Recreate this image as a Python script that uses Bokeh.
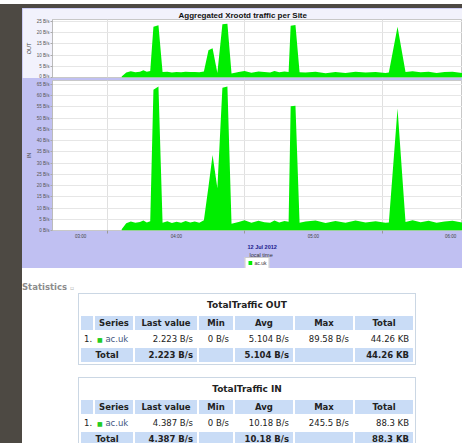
from bokeh.plotting import figure
from bokeh.models import (Range1d, FixedTicker, Div, Legend, LegendItem, Title,
                          ColumnDataSource)
from bokeh.layouts import row, column
from bokeh.embed import file_html
from bokeh.resources import INLINE

# ---------------- data ----------------
chart_title = "Aggregated Xrootd traffic per Site"
series_name = "ac.uk"
date_label = "12 Jul 2012"
time_axis_label = "local time"

# minutes after 03:00 local time
times = [36.0, 38.0, 40.0, 42.0, 44.0, 45.5, 47.0, 48.5, 49.9, 52.1,
         53.9, 56.0, 58.0, 60.0, 62.0, 64.0, 66.0, 68.0, 70.0, 72.0,
         74.0, 75.8, 77.9, 80.1, 82.3, 84.1, 87.2, 89.8, 92.8, 95.9,
         98.5, 101.0, 102.9, 105.0, 107.3, 109.1, 110.0, 112.1, 113.9, 116.5,
         120.9, 125.3, 129.6, 134.0, 138.4, 142.8, 147.2, 151.5, 153.0, 156.8,
         160.3, 163.4, 166.9, 170.4, 173.9, 177.4, 180.9, 185.3]
out_bps = [0.4, 2.2, 2.8, 2.3, 2.6, 3.2, 2.6, 2.9, 22.6, 23.3,
           2.4, 2.6, 2.2, 2.5, 2.3, 2.6, 2.4, 2.5, 2.3, 2.7,
           12.2, 13.0, 2.0, 23.7, 24.0, 1.8, 2.4, 2.9, 2.1, 2.7,
           2.4, 2.2, 2.9, 2.3, 2.7, 2.5, 23.1, 23.4, 2.3, 2.2,
           2.6, 1.9, 2.5, 2.0, 2.6, 2.2, 2.5, 2.0, 2.2, 22.6,
           2.4, 2.8, 2.3, 2.6, 2.0, 2.4, 2.6, 2.0]
in_bps = [0.6, 3.2, 4.0, 3.4, 3.8, 4.4, 3.6, 4.1, 62.6, 64.0,
          3.4, 4.1, 3.3, 3.9, 3.5, 4.2, 3.6, 4.0, 3.5, 4.6,
          19.5, 33.6, 18.8, 63.5, 64.0, 3.0, 3.8, 4.6, 3.4, 4.3,
          3.7, 3.5, 4.4, 3.6, 4.2, 3.9, 55.3, 55.5, 3.5, 4.0,
          4.5, 3.3, 4.2, 3.4, 4.4, 3.6, 4.1, 3.4, 3.6, 54.3,
          3.8, 4.6, 3.7, 4.3, 3.4, 4.0, 4.3, 3.5]

out_ticks = [0, 5, 10, 15, 20, 25]
in_ticks = [0, 5, 10, 15, 20, 25, 30, 35, 40, 45, 50, 55, 60, 65]
hour_labels = ["03:00", "04:00", "05:00", "06:00"]
hour_label_at = [18, 60, 120, 180]
half_hours = [30, 90, 150]

stat_columns = ["Series", "Last value", "Min", "Avg", "Max", "Total"]
out_row = ["2.223 B/s", "0 B/s", "5.104 B/s", "89.58 B/s", "44.26 KB"]
out_total = ["2.223 B/s", "", "5.104 B/s", "", "44.26 KB"]
in_row = ["4.387 B/s", "0 B/s", "10.18 B/s", "245.5 B/s", "88.3 KB"]
in_total = ["4.387 B/s", "", "10.18 B/s", "", "88.3 KB"]

# ---------------- styling ----------------
GREEN = "#00ee00"
LAV = "#c0c0f2"
DARK = "#4d4943"
CHART_FONT = "Liberation Sans"
W = 440
x_range = Range1d(5.7, 185.25)
src = ColumnDataSource(dict(t=times, out=out_bps, inn=in_bps))


def style_y(p, ticks, label):
    ax = p.yaxis[0]
    ax.ticker = FixedTicker(ticks=ticks)
    ax.major_label_overrides = {t: f"{t} B/s" for t in ticks}
    ax.major_label_text_font = CHART_FONT
    ax.major_label_text_font_size = "4.5px"
    ax.major_label_text_color = "#555555"
    ax.major_label_standoff = 1
    ax.major_tick_out = 2
    ax.major_tick_in = 0
    ax.major_tick_line_color = "#aaaaaa"
    ax.minor_tick_line_color = None
    ax.axis_line_color = "#bbbbbb"
    ax.axis_label = label
    ax.axis_label_text_font = CHART_FONT
    ax.axis_label_text_font_size = "5.5px"
    ax.axis_label_text_font_style = "normal"
    ax.axis_label_text_color = "#444444"
    ax.axis_label_standoff = 2
    p.ygrid.grid_line_color = "#e6e6e6"
    p.xgrid.ticker = FixedTicker(ticks=half_hours)
    p.xgrid.grid_line_color = "#e0e0e0"


# OUT panel
p_out = figure(width=W, height=70, x_range=x_range, y_range=Range1d(0, 25.85),
               output_backend="svg", toolbar_location=None, x_axis_location=None,
               min_border_left=30, min_border_right=0, min_border_top=6,
               min_border_bottom=1, border_fill_color="#f2f2fc",
               background_fill_color="white", outline_line_color="#c8c8c8",
               margin=0)
p_out.title.text = chart_title
p_out.title.align = "left"
p_out.title.offset = 126
p_out.title.text_font = CHART_FONT
p_out.title.text_font_size = "8px"
p_out.title.text_font_style = "bold"
p_out.title.text_color = "#111111"
p_out.title.standoff = 0
style_y(p_out, out_ticks, "OUT")
p_out.varea(x="t", y1=0, y2="out", source=src, fill_color=GREEN)

# IN panel
p_in = figure(width=W, height=179, x_range=x_range, y_range=Range1d(0, 66.7),
              output_backend="svg", toolbar_location=None,
              min_border_left=30, min_border_right=0, min_border_top=2,
              min_border_bottom=23, border_fill_color=LAV,
              background_fill_color="white", outline_line_color="#c8c8c8",
              margin=0)
style_y(p_in, in_ticks, "IN")
p_in.varea(x="t", y1=0, y2="inn", source=src, fill_color=GREEN)

xa = p_in.xaxis[0]
xa.ticker = FixedTicker(ticks=hour_label_at, minor_ticks=half_hours)
xa.major_label_overrides = dict(zip(hour_label_at, hour_labels))
xa.major_label_text_font = CHART_FONT
xa.major_label_text_font_size = "4.5px"
xa.major_label_text_color = "#444444"
xa.major_label_standoff = 0
xa.major_tick_line_color = None
xa.major_tick_out = 0
xa.major_tick_in = 0
xa.minor_tick_line_color = "#999999"
xa.minor_tick_out = 3
xa.minor_tick_in = 0
xa.axis_line_color = None

t_date = Title(text=date_label, align="left", offset=195, text_font=CHART_FONT,
               text_font_size="5.5px", text_font_style="bold",
               text_color="#1a1a8c", standoff=0)
p_in.add_layout(t_date, "below")
t_local = Title(text=time_axis_label, align="left", offset=197, text_font=CHART_FONT,
                text_font_size="5.5px", text_font_style="normal",
                text_color="#333333", standoff=0)
p_in.add_layout(t_local, "below")

# legend strip under the chart (same series, drawn outside the visible y-range
# of this strip so only its legend swatch shows)
p_leg = figure(width=W, height=11, x_range=Range1d(0, 1), y_range=Range1d(-2, -1),
               output_backend="svg", toolbar_location=None,
               x_axis_location=None, y_axis_location=None,
               min_border_left=8, min_border_right=0, min_border_top=0,
               min_border_bottom=0, border_fill_color=LAV,
               background_fill_color=LAV, outline_line_color=None, margin=0)
p_leg.grid.visible = False
r_leg = p_leg.varea(x="t", y1=0, y2="inn", source=src, fill_color=GREEN)
legend = Legend(items=[LegendItem(label=series_name, renderers=[r_leg])],
                location="center", orientation="horizontal",
                label_text_font=CHART_FONT, label_text_font_size="5px",
                label_text_color="#333333", glyph_width=5, glyph_height=5,
                label_height=5, label_width=10, padding=2, margin=0, spacing=0,
                label_standoff=2, border_line_color="#999999",
                background_fill_color="white", background_fill_alpha=1.0)
p_leg.add_layout(legend)

# ---------------- statistics tables ----------------
LIGHT = "#c9dcf6"
COLW = [12, 38, 62, 34, 58, 58, 58]


def table_html(title, values, totals, top):
    cells = "".join(f'<col style="width:{w}px">' for w in COLW)
    head = "<td></td>" + "".join(
        f'<td style="text-align:center">{c}</td>' for c in stat_columns)
    row1 = ('<td style="padding-left:3px">1.</td>'
            f'<td style="white-space:nowrap;padding-left:2px">'
            f'<span style="color:#22cc22;font-size:6px">&#9632;</span> '
            f'<span style="color:#3e5680">{series_name}</span></td>'
            + "".join(f'<td style="text-align:right;padding-right:4px;white-space:nowrap">{v}</td>'
                      for v in values))
    tot = ('<td colspan="2" style="text-align:center">Total</td>'
           + "".join(f'<td style="text-align:right;padding-right:4px;white-space:nowrap">{v}</td>'
                     for v in totals))
    return (
        f'<table style="position:absolute;left:56px;top:{top}px;width:338px;'
        f'table-layout:fixed;border:1px solid #cbd7e4;border-spacing:2px;'
        f'background:#ffffff;font-family:\'DejaVu Sans\';font-size:8.5px;color:#222;'
        f'line-height:10px">'
        f'<colgroup>{cells}</colgroup>'
        f'<tr style="height:18px"><td colspan="7" style="text-align:center;'
        f'font-weight:bold;font-size:9px">{title}</td></tr>'
        f'<tr style="height:14px;background:{LIGHT};font-weight:bold">{head}</tr>'
        f'<tr style="height:14px">{row1}</tr>'
        f'<tr style="height:14px;background:{LIGHT};font-weight:bold">{tot}</tr>'
        f'</table>')


STATS_H = 175
stats_html = (
    f'<div style="position:relative;width:{W}px;height:{STATS_H}px;overflow:hidden;'
    'background:#ffffff">'
    '<div style="position:absolute;left:0px;top:13px;font-family:\'DejaVu Sans\';'
    'font-size:8.5px;line-height:12px;font-weight:bold;color:#8c8c8c">Statistics '
    '<span style="font-size:6px;color:#b0b0b0">&#9643;</span></div>'
    + table_html("TotalTraffic OUT", out_row, out_total, 25)
    + table_html("TotalTraffic IN", in_row, in_total, 109)
    + '</div>')
stats_div = Div(text=stats_html, width=W, height=STATS_H, margin=0,
                styles={"overflow": "hidden", "background-color": "#ffffff"})

top_band = Div(text=f'<div style="width:462px;height:8px;background:{DARK}"></div>',
               width=462, height=8, margin=0, styles={"overflow": "hidden"})
strip = Div(text=f'<div style="width:22px;height:435px;background:{DARK}"></div>',
            width=22, height=435, margin=0, styles={"overflow": "hidden"})

chart_col = column(p_out, p_in, p_leg, stats_div, spacing=0, margin=0,
                   styles={"background-color": LAV})
layout = column(top_band, row(strip, chart_col, spacing=0, margin=0),
                spacing=0, margin=0)

open("out.html", "w").write(file_html(layout, INLINE, title="Xrootd traffic"))
